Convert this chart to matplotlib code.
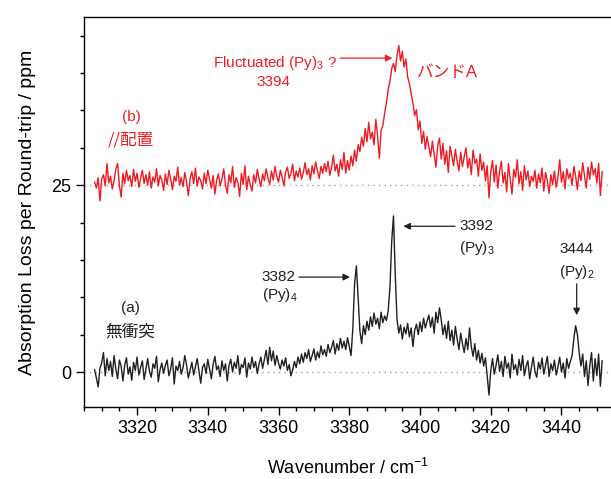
import numpy as np
import matplotlib.pyplot as plt
from matplotlib.ticker import MultipleLocator

plt.rcParams['font.family'] = ['Liberation Sans', 'Noto Sans CJK JP']
plt.rcParams['mathtext.fontset'] = 'custom'
plt.rcParams['mathtext.rm'] = 'Liberation Sans'
plt.rcParams['mathtext.it'] = 'Liberation Sans:italic'

# sampling grid (cm-1), 0.5 cm-1 step
wavenumber = np.arange(3308.0, 3452.0, 0.5)

# (a) no-collision spectrum, ppm (rows of 5 cm-1)
loss_a = [
    0.3, -0.8, -2.0, 0.5, 1.2, 2.6, -0.5, 1.8, 0.2, 1.4,
    -0.6, 2.2, 0.4, -0.9, 1.6, 0.8, -1.2, 0.9, 1.9, -0.3,
    0.7, -1.1, 1.3, 0.2, 2.0, -0.4, 0.6, 1.5, -1.0, 0.4,
    1.8, 0.1, -0.7, 1.1, 0.5, 2.1, -1.3, 0.3, 1.2, -0.2,
    0.9, 1.6, -0.5, 0.4, 1.9, -1.6, 0.8, 0.2, 1.4, -0.3,
    0.6, 2.2, 0.9, -0.8, 0.3, 1.3, -0.4, 0.7, 1.8, 0.1,
    -1.5, 0.6, 1.1, -0.2, 1.7, 0.4, -0.9, 1.0, 2.1, 0.3,
    0.8, -0.6, 1.5, 0.2, 1.1, -1.2, 0.9, 1.7, 0.0, 1.3,
    0.5, 2.2, -0.3, 1.0, 0.6, 1.9, -0.7, 1.2, 0.4, 2.0,
    0.6, 1.4, -0.2, 1.1, 2.0, 0.5, 1.7, 2.9, 1.0, 3.3,
    1.5, 2.8, 0.9, 2.2, 1.2, 0.4, 1.6, 0.8, 1.9, 0.2,
    1.0, -0.5, 0.3, 1.4, 0.6, 2.0, 1.1, 2.4, 1.3, 2.6,
    1.8, 3.0, 1.4, 2.2, 3.1, 1.6, 2.7, 1.9, 3.5, 2.3,
    3.0, 2.1, 3.7, 2.6, 3.3, 4.2, 2.4, 3.8, 2.9, 4.5,
    3.2, 4.1, 3.0, 4.6, 3.4, 2.2, 5.8, 11.8, 14.2, 10.0,
    5.5, 3.8, 6.2, 5.0, 6.8, 5.6, 7.4, 6.1, 7.9, 6.4,
    7.2, 5.8, 8.0, 6.6, 7.5, 6.9, 8.2, 11.3, 17.5, 20.9,
    13.0, 7.0, 5.2, 6.3, 4.4, 6.0, 5.1, 6.5, 4.7, 5.9,
    3.4, 5.6, 6.4, 5.0, 6.7, 5.4, 7.2, 5.9, 6.8, 7.6,
    6.0, 7.3, 5.2, 8.0, 6.6, 8.6, 7.0, 5.0, 6.3, 4.5,
    6.8, 4.2, 5.6, 3.6, 6.1, 4.4, 3.0, 5.2, 3.8, 2.6,
    4.5, 3.0, 5.9, 3.4, 2.1, 3.8, 1.6, 2.9, 1.2, 2.5,
    0.8, 1.9, -0.5, -3.1, 0.2, 1.8, -0.3, 0.9, 2.3, 0.1,
    1.4, -0.6, 2.1, 0.5, 1.2, -0.8, 2.4, 0.3, 1.0, -0.4,
    1.7, 0.2, 2.2, -0.5, 0.8, 1.5, -0.9, 0.6, 2.0, 0.1,
    -0.7, 1.3, 0.4, 1.9, -0.3, 0.9, 2.1, -0.6, 1.1, 0.2,
    1.6, -0.4, 0.7, 2.0, 0.0, 1.2, -0.8, 1.8, 0.5, 1.4,
    2.2, 4.5, 6.2, 5.0, 2.6, 0.8, 2.4, -0.6, 1.5, -1.8,
    0.9, 2.6, -1.2, 1.8, -0.5, 2.4, -1.9, 1.5,
]

# (b) parallel arrangement spectrum, ppm (includes the +25 offset)
loss_b = [
    25.4, 24.6, 26.0, 22.9, 25.8, 26.4, 24.9, 27.9, 25.3, 26.2,
    24.5, 25.6, 27.2, 27.9, 25.0, 23.4, 26.6, 25.2, 27.0, 25.6,
    26.3, 24.8, 27.1, 25.5, 26.6, 24.7, 25.9, 27.0, 25.2, 26.4,
    25.0, 26.8, 24.6, 26.1, 25.4, 27.2, 24.9, 26.3, 25.7, 24.3,
    26.5, 25.1, 27.0, 25.8, 24.4, 26.2, 25.5, 27.4, 25.0, 26.0,
    24.8, 26.7, 25.4, 23.6, 25.9, 26.8, 25.2, 27.3, 24.9, 26.1,
    25.6, 24.5, 26.6, 25.2, 27.0, 25.8, 24.6, 26.3, 23.8, 25.7,
    26.5, 24.9, 25.8, 27.2, 25.0, 23.9, 26.4, 25.3, 27.5, 24.7,
    26.0, 25.4, 23.5, 26.6, 25.1, 27.6, 24.4, 26.2, 25.0, 24.2,
    26.4, 25.3, 27.1, 25.8, 24.8, 26.5, 25.6, 27.2, 26.0, 25.1,
    26.9, 25.7, 27.5, 26.2, 25.4, 27.0, 26.1, 24.9, 26.8, 27.4,
    25.9, 26.6, 27.8, 25.6, 26.9, 26.1, 27.3, 25.8, 26.7, 28.0,
    26.4, 27.2, 25.7, 27.6, 26.5, 28.1, 26.9, 25.9, 27.5, 26.6,
    27.9, 26.8, 28.2, 26.3, 27.4, 29.0, 26.9, 27.8, 26.2, 28.4,
    27.1, 29.4, 26.6, 28.3, 27.0, 28.9, 27.6, 29.7, 28.2, 30.4,
    29.5, 31.4, 30.2, 32.6, 30.8, 33.4, 31.2, 32.1, 30.4, 33.8,
    31.6, 28.6, 32.4, 33.0, 34.6, 36.0, 37.8, 38.9, 40.6, 41.3,
    40.2, 42.4, 43.7, 41.6, 42.9, 40.8, 41.9, 39.5, 38.6, 37.2,
    36.0, 34.3, 35.1, 32.4, 33.6, 30.6, 32.2, 29.8, 31.5, 30.1,
    28.8, 30.9, 29.2, 27.4, 30.3, 31.3, 28.5, 30.6, 27.8, 29.6,
    26.7, 30.2, 28.9, 27.6, 29.8, 28.2, 26.9, 29.4, 27.5, 28.8,
    30.0, 27.3, 28.6, 26.4, 29.7, 27.9, 28.5, 26.2, 29.2, 27.0,
    28.1, 25.6, 27.6, 23.3, 26.8, 28.3, 25.4, 27.7, 24.6, 26.9,
    28.2, 25.3, 26.7, 24.1, 27.9, 25.8, 23.8, 27.1, 26.0, 28.4,
    25.2, 26.8, 24.3, 27.6, 25.7, 26.9, 24.8, 26.2, 25.5, 27.0,
    24.6, 26.5, 25.3, 27.3, 24.2, 26.7, 25.6, 23.9, 26.4, 25.1,
    26.9, 24.7, 26.1, 28.4, 25.4, 26.8, 24.5, 27.2, 25.9, 26.6,
    25.0, 27.5, 26.2, 24.4, 26.9, 25.6, 28.0, 26.3, 24.6, 27.4,
    25.8, 28.1, 26.4, 27.2, 25.3, 27.9, 23.6, 26.8,
]

baselines = [0, 25]

red = '#ed1c24'
black = '#231f20'

fig = plt.figure(figsize=(6.11, 4.79), dpi=100)
ax = fig.add_axes([0.1375, 0.150, 0.8625, 0.8145])

for b in baselines:
    ax.axhline(b, color='#a0a0a0', lw=1.0, ls=(0, (1, 3)), zorder=1)

ax.plot(wavenumber, loss_a, color=black, lw=1.0, zorder=3)
ax.plot(wavenumber, loss_b, color=red, lw=1.0, zorder=3)

ax.set_xlim(3305, 3454)
ax.set_ylim(-4.7, 47.5)
ax.xaxis.set_major_locator(MultipleLocator(20))
ax.xaxis.set_minor_locator(MultipleLocator(5))
ax.set_yticks(baselines)
ax.yaxis.set_minor_locator(MultipleLocator(5))
ax.tick_params(which='major', direction='out', length=6, width=1, labelsize=13, pad=3)
ax.tick_params(which='minor', direction='out', length=3, width=1)
ax.tick_params(top=False, right=False)
ax.spines['right'].set_visible(False)
for s in ax.spines.values():
    s.set_linewidth(1.0)

ax.set_xlabel('Wavenumber / cm$^{-1}$', fontsize=13, labelpad=15)
ax.set_ylabel('Absorption Loss per Round-trip / ppm', fontsize=14, labelpad=11)

# annotations for (b)
ax.text(3318.5, 34.1, '(b)', color=red, fontsize=11, ha='center', va='center')
ax.text(3318.3, 31.0, '//配置', color=red, fontsize=12, ha='center', va='center',
        family=['Noto Sans CJK JP'])
ax.text(3376.6, 41.4, 'Fluctuated (Py)$_3$ ?', color=red, fontsize=11, ha='right', va='center')
ax.text(3358.5, 38.8, '3394', color=red, fontsize=11, ha='center', va='center')
ax.annotate('', xy=(3392.2, 42.0), xytext=(3377.4, 42.0),
            arrowprops=dict(arrowstyle='-|>', color=red, lw=0.9, mutation_scale=10,
                            shrinkA=0, shrinkB=0))
ax.text(3399.2, 40.1, 'バンドA', color=red, fontsize=12, ha='left', va='center')

# annotations for (a)
ax.text(3318.0, 8.5, '(a)', color=black, fontsize=11, ha='center', va='center')
ax.text(3318.0, 5.4, '無衝突', color=black, fontsize=12, ha='center', va='center')

ax.text(3355.3, 12.7, '3382', color=black, fontsize=11, ha='left', va='center')
ax.text(3355.3, 10.3, '(Py)$_4$', color=black, fontsize=11, ha='left', va='center')
ax.annotate('', xy=(3380.2, 12.7), xytext=(3365.8, 12.7),
            arrowprops=dict(arrowstyle='-|>', color=black, lw=0.9, mutation_scale=10,
                            shrinkA=0, shrinkB=0))

ax.text(3411.1, 19.5, '3392', color=black, fontsize=11, ha='left', va='center')
ax.text(3411.1, 16.6, '(Py)$_3$', color=black, fontsize=11, ha='left', va='center')
ax.annotate('', xy=(3395.3, 19.5), xytext=(3409.9, 19.5),
            arrowprops=dict(arrowstyle='-|>', color=black, lw=0.9, mutation_scale=10,
                            shrinkA=0, shrinkB=0))

ax.text(3444.3, 16.4, '3444', color=black, fontsize=11, ha='center', va='center')
ax.text(3444.3, 13.4, '(Py)$_2$', color=black, fontsize=11, ha='center', va='center')
ax.annotate('', xy=(3444.3, 7.6), xytext=(3444.3, 11.8),
            arrowprops=dict(arrowstyle='-|>', color=black, lw=0.9, mutation_scale=10,
                            shrinkA=0, shrinkB=0))

fig.savefig('out.png', dpi=100)
